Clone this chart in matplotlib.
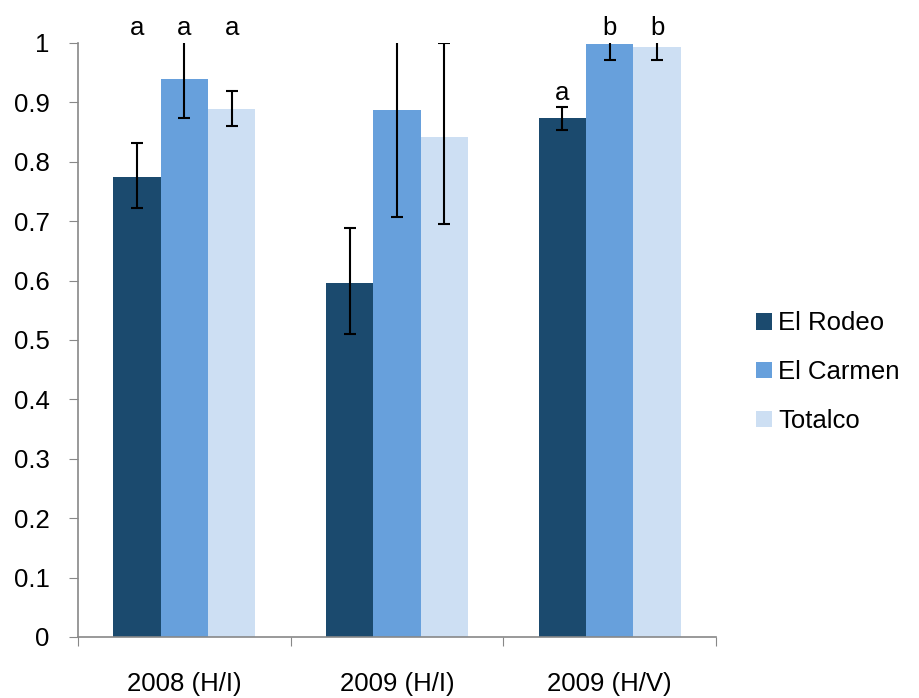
import matplotlib.pyplot as plt
import numpy as np

plt.rcParams['font.family'] = ['Liberation Sans', 'DejaVu Sans']

periods = ['2008 (H/I)', '2009 (H/I)', '2009 (H/V)']
sites = ['El Rodeo', 'El Carmen', 'Totalco']
colors = ['#1b4a6e', '#67a0dc', '#cddff3']

# mean proportion per site, one value per period
rodeo = [0.775, 0.596, 0.873]
carmen = [0.939, 0.888, 0.999]
totalco = [0.889, 0.841, 0.994]

# error bars (lower, upper)
rodeo_lo = [0.053, 0.086, 0.019]
rodeo_hi = [0.056, 0.093, 0.019]
carmen_lo = [0.066, 0.181, 0.028]
carmen_hi = [0.066, 0.181, 0.028]
totalco_lo = [0.028, 0.146, 0.023]
totalco_hi = [0.030, 0.159, 0.023]

# significance letters and the height they sit at
letters = [['a', 'a', 'a'], ['', '', ''], ['a', 'b', 'b']]
letter_y = [[1.025, 1.025, 1.025], [0, 0, 0], [0.916, 1.025, 1.025]]

values = [rodeo, carmen, totalco]
lows = [rodeo_lo, carmen_lo, totalco_lo]
highs = [rodeo_hi, carmen_hi, totalco_hi]

fs = 18.5

fig = plt.figure(figsize=(9.2, 6.98), dpi=100)
ax = fig.add_axes([0.0848, 0.0874, 0.6935, 0.851])

x = np.arange(len(periods))
w = 0.223
for i in range(3):
    pos = x + (i - 1) * w
    ax.bar(pos, values[i], width=w, color=colors[i], label=sites[i], zorder=2)
    ax.errorbar(pos, values[i], yerr=[lows[i], highs[i]], fmt='none', ecolor='black',
                elinewidth=1.5, capsize=4, capthick=1.5, zorder=3)
    for j in range(len(periods)):
        if letters[j][i]:
            ax.text(pos[j], letter_y[j][i], letters[j][i], ha='center', va='center',
                    fontsize=fs, clip_on=False)

ax.set_xlim(-0.5, 2.5)
ax.set_ylim(0, 1)
ax.set_yticks(np.arange(0, 1.01, 0.1))
ax.set_yticklabels(['0'] + ['%.1f' % v for v in np.arange(0.1, 0.95, 0.1)] + ['1'])

# ticks sit on the category boundaries, labels in the middle
ax.set_xticks([-0.5, 0.5, 1.5, 2.5])
ax.set_xticklabels([])
ax.set_xticks(x, minor=True)
ax.set_xticklabels(periods, minor=True)
ax.tick_params(axis='x', which='minor', length=0, pad=25, labelsize=fs)
ax.tick_params(axis='x', which='major', length=6.5, color='#888888', direction='out')
ax.tick_params(axis='y', length=6.5, color='#888888', pad=14, labelsize=fs)

for s in ['top', 'right']:
    ax.spines[s].set_visible(False)
for s in ['left', 'bottom']:
    ax.spines[s].set_color('#888888')
    ax.spines[s].set_linewidth(1.2)

ax.legend(loc='center left', bbox_to_anchor=(1.027, 0.446), frameon=False, fontsize=fs,
          handlelength=0.6, handleheight=0.6, handletextpad=0.25, labelspacing=0.96)

fig.savefig('out.png', dpi=100)
